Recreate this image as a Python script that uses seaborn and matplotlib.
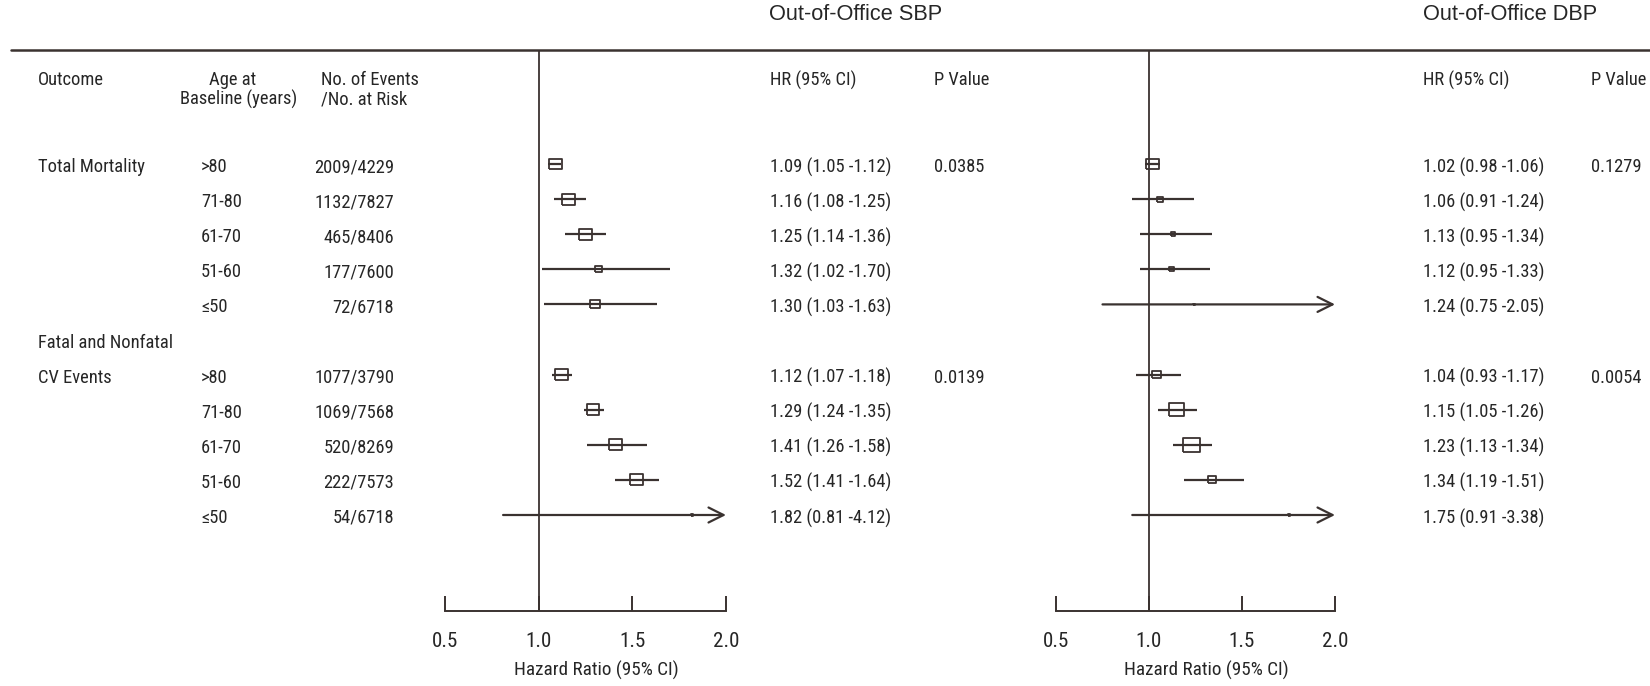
import os
import numpy as np
import pandas as pd
import matplotlib
matplotlib.use("Agg")
import matplotlib.pyplot as plt
from matplotlib import font_manager
from matplotlib.font_manager import FontProperties
from matplotlib.textpath import TextPath
from matplotlib.lines import Line2D
import seaborn as sns

# ---------------- data ----------------
age_groups = [">80", "71-80", "61-70", "51-60", "\u226450"]
outcome_labels = ["Total Mortality", "CV Events"]
outcome_prefix = ["", "Fatal and Nonfatal"]
events_tm = ["2009/4229", "1132/7827", "465/8406", "177/7600", "72/6718"]
events_cv = ["1077/3790", "1069/7568", "520/8269", "222/7573", "54/6718"]

sbp_tm_hr = [1.09, 1.16, 1.25, 1.32, 1.30]
sbp_tm_lo = [1.05, 1.08, 1.14, 1.02, 1.03]
sbp_tm_hi = [1.12, 1.25, 1.36, 1.70, 1.63]
sbp_cv_hr = [1.12, 1.29, 1.41, 1.52, 1.82]
sbp_cv_lo = [1.07, 1.24, 1.26, 1.41, 0.81]
sbp_cv_hi = [1.18, 1.35, 1.58, 1.64, 4.12]
sbp_p = ["0.0385", "0.0139"]

dbp_tm_hr = [1.02, 1.06, 1.13, 1.12, 1.24]
dbp_tm_lo = [0.98, 0.91, 0.95, 0.95, 0.75]
dbp_tm_hi = [1.06, 1.24, 1.34, 1.33, 2.05]
dbp_cv_hr = [1.04, 1.15, 1.23, 1.34, 1.75]
dbp_cv_lo = [0.93, 1.05, 1.13, 1.19, 0.91]
dbp_cv_hi = [1.17, 1.26, 1.34, 1.51, 3.38]
dbp_p = ["0.1279", "0.0054"]

hr_ticks = [0.5, 1.0, 1.5, 2.0]

# ---------------- style ----------------
sbp_box_px = [[13, 13, 13, 7.5, 9.5], [13, 12.5, 13, 13, 2]]
dbp_box_px = [[13, 6, 4.5, 4.5, 2], [8.5, 15, 17, 8.5, 2]]

sns.set_theme(style="white")
plt.rcParams["font.family"] = ["Liberation Sans", "DejaVu Sans"]


def find_narrow():
    cands = [dict(family="Liberation Sans Narrow"), dict(family="Arial Narrow"),
             dict(family="Roboto Condensed"), dict(family="Open Sans Condensed"),
             dict(family="Noto Sans Condensed"), dict(family="DejaVu Sans Condensed"),
             dict(family="Noto Sans", stretch="condensed"),
             dict(family="DejaVu Sans", stretch="condensed"),
             dict(family="Open Sans", stretch="condensed"),
             dict(family="Roboto", stretch="condensed")]
    for c in cands:
        try:
            path = font_manager.findfont(FontProperties(**c), fallback_to_default=False)
        except Exception:
            continue
        name = os.path.basename(path).lower()
        if ("narrow" in name or "condensed" in name) and not any(
                k in name for k in ("bold", "italic", "light", "black", "semi",
                                    "extra", "thin", "medium")):
            return FontProperties(fname=path)
    return FontProperties(family=["Liberation Sans", "DejaVu Sans"])


BASE = find_narrow()
TITLE = FontProperties(family=["Liberation Sans", "DejaVu Sans"])

# reference text widths (px) used to size the body font
SAMPLES = [("Total Mortality", 100), ("No. of Events", 95), ("1.09 (1.05 -1.12)", 118),
           ("2009/4229", 76), ("Fatal and Nonfatal", 130), ("CV Events", 76),
           ("HR (95% CI)", 93), ("Baseline (years)", 114)]


def width_px(fp, s, size):
    return TextPath((0, 0), s, size=size, prop=fp).get_extents().width * 100 / 72


def ls_size(fp, samples):
    w = np.array([width_px(fp, s, 1.0) for s, _ in samples])
    t = np.array([float(v) for _, v in samples])
    return float((w * t).sum() / (w * w).sum())


def sized(fp, size):
    out = fp.copy()
    out.set_size(size)
    return out


F_BODY = sized(BASE, ls_size(BASE, SAMPLES))
F_TICK = sized(BASE, ls_size(BASE, [("0.5", 24), ("1.0", 24), ("2.0", 24)]))
F_XLAB = sized(BASE, ls_size(BASE, [("Hazard Ratio (95% CI)", 162)]))
F_TITLE = sized(TITLE, ls_size(TITLE, [("Out-of-Office SBP", 172)]))

TEXT = "#262626"
LINE = "#3a3230"
W, H = 1650, 686
TEXT_DY = 3

ROW0, ROW_STEP = 164, 35.1
TOP_Y, AXIS_Y = 49.5, 611


def row_y(r):
    return ROW0 + ROW_STEP * r


def fx(x):
    return x / W


def fy(y):
    return 1 - y / H


fig = plt.figure(figsize=(W / 100, H / 100), dpi=100)


def put(x, y, s, ha="left", fp=None):
    fig.text(fx(x), fy(y + TEXT_DY), s, ha=ha, va="center",
             fontproperties=fp if fp is not None else F_BODY, color=TEXT)


# top rule
fig.add_artist(Line2D([fx(11), fx(W)], [fy(TOP_Y), fy(TOP_Y)],
                      color=LINE, lw=1.8, transform=fig.transFigure))

# titles
put(769, 11, "Out-of-Office SBP", fp=F_TITLE)
put(1423, 11, "Out-of-Office DBP", fp=F_TITLE)

# headers
put(38, 77, "Outcome")
put(233, 77, "Age at", ha="center")
put(239, 96, "Baseline (years)", ha="center")
put(321, 77, "No. of Events")
put(321, 96, "/No. at Risk")
for hx, px in [(770, 934), (1423, 1591)]:
    put(hx, 77, "HR (95% CI)")
    put(px, 77, "P Value")

# table body
for g, events in enumerate([events_tm, events_cv]):
    base = g * 6
    if outcome_prefix[g]:
        put(38, row_y(base - 1), outcome_prefix[g])
    put(38, row_y(base), outcome_labels[g])
    for i, (age, ev) in enumerate(zip(age_groups, events)):
        put(201, row_y(base + i), age)
        put(394, row_y(base + i), ev, ha="right")

# panels
box_marker = [(-0.5, -0.42), (0.5, -0.42), (0.5, 0.42), (-0.5, 0.42), (-0.5, -0.42)]
ylim_bot = (AXIS_Y - ROW0) / ROW_STEP
ylim_top = (TOP_Y - ROW0) / ROW_STEP

panels = [
    dict(x0=445, x1=726, hx=770, px=934,
         groups=[(sbp_tm_hr, sbp_tm_lo, sbp_tm_hi), (sbp_cv_hr, sbp_cv_lo, sbp_cv_hi)],
         p=sbp_p, box=sbp_box_px),
    dict(x0=1056, x1=1335, hx=1423, px=1591,
         groups=[(dbp_tm_hr, dbp_tm_lo, dbp_tm_hi), (dbp_cv_hr, dbp_cv_lo, dbp_cv_hi)],
         p=dbp_p, box=dbp_box_px),
]

for pan in panels:
    ax = fig.add_axes([fx(pan["x0"]), fy(AXIS_Y), (pan["x1"] - pan["x0"]) / W,
                       (AXIS_Y - TOP_Y) / H])
    ax.patch.set_alpha(0)
    recs = []
    for g, (hr, lo, hi) in enumerate(pan["groups"]):
        for i in range(len(hr)):
            w_pt = pan["box"][g][i] * 0.72
            recs.append(dict(row=g * 6 + i, hr=hr[i], lo=lo[i], hi=hi[i], area=w_pt ** 2))
        put(pan["px"], row_y(g * 6), pan["p"][g])
        for i in range(len(hr)):
            put(pan["hx"], row_y(g * 6 + i), f"{hr[i]:.2f} ({lo[i]:.2f} -{hi[i]:.2f})")
    df = pd.DataFrame(recs)
    ax.set_xlim(hr_ticks[0], hr_ticks[-1])
    ax.set_ylim(ylim_bot, ylim_top)
    ax.axvline(1.0, color=LINE, lw=1.3, zorder=1)
    inside = df[df.hi <= hr_ticks[-1]]
    ax.hlines(inside.row, inside.lo, inside.hi, color=LINE, lw=1.6, zorder=2)
    for _, r in df[df.hi > hr_ticks[-1]].iterrows():
        ax.annotate("", xy=(hr_ticks[-1], r.row), xytext=(r.lo, r.row),
                    arrowprops=dict(arrowstyle="->,head_length=0.9,head_width=0.45",
                                    color=LINE, lw=1.6, shrinkA=0, shrinkB=0),
                    annotation_clip=False, zorder=2)
    amax = df.area.max()
    sns.scatterplot(data=df, x="hr", y="row", size="area", sizes=(0, amax),
                    size_norm=(0, amax), marker=box_marker, facecolor="none",
                    edgecolor=LINE, linewidth=1.3, legend=False, ax=ax, zorder=3)
    sns.despine(ax=ax, left=True)
    ax.spines["bottom"].set_color(LINE)
    ax.spines["bottom"].set_linewidth(1.4)
    ax.set_yticks([])
    ax.set_ylabel("")
    ax.set_xticks(hr_ticks)
    ax.set_xticklabels([f"{t:.1f}" for t in hr_ticks])
    ax.tick_params(axis="x", direction="in", length=11, width=1.4, colors=LINE,
                   labelcolor=TEXT, pad=15, bottom=True)
    for lab in ax.get_xticklabels():
        lab.set_fontproperties(F_TICK)
    ax.set_xlabel("Hazard Ratio (95% CI)", fontproperties=F_XLAB, color=TEXT)
    ax.xaxis.set_label_coords(0.54, -0.088)

fig.savefig("out.png", dpi=100)
